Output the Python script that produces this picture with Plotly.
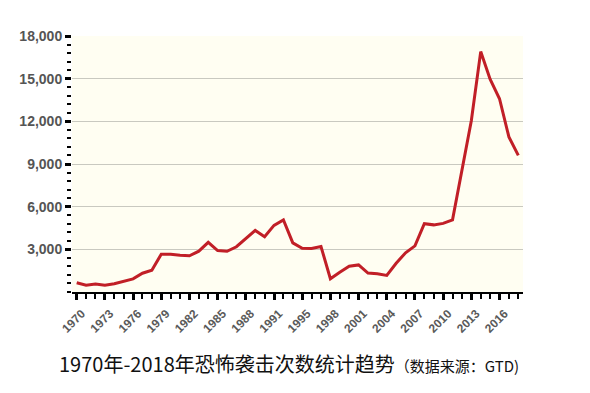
import plotly.graph_objects as go

years = [1970, 1971, 1972, 1973, 1974, 1975, 1976, 1977, 1978, 1979,
         1980, 1981, 1982, 1983, 1984, 1985, 1986, 1987, 1988, 1989,
         1990, 1991, 1992, 1994, 1995, 1996, 1997, 1998, 1999, 2000,
         2001, 2002, 2003, 2004, 2005, 2006, 2007, 2008, 2009, 2010,
         2011, 2012, 2013, 2014, 2015, 2016, 2017, 2018]
attacks = [651, 471, 568, 473, 581, 740, 923, 1319, 1526, 2662,
           2662, 2586, 2544, 2870, 3495, 2915, 2860, 3183, 3721, 4324,
           3887, 4683, 5071, 3456, 3081, 3058, 3197, 934, 1395, 1814,
           1906, 1333, 1278, 1166, 2017, 2758, 3242, 4805, 4721, 4826,
           5076, 8522, 12036, 16903, 14965, 13587, 10900, 9607]
y_ticks = [3000, 6000, 9000, 12000, 15000, 18000]

idx = list(range(len(years)))
label_idx = idx[::3][:16]
label_txt = [str(years[i]) for i in label_idx]

fig = go.Figure()
fig.add_trace(go.Scatter(
    x=idx, y=attacks, mode="lines",
    line=dict(color="#c11f27", width=3),
    hoverinfo="skip", showlegend=False,
))

tickfont = dict(family="Liberation Sans, Arial, sans-serif", size=14,
                color="#555555", weight="bold")

# page body has an 8px margin, so the figure is drawn 8px right/down
OFF = 8
W, H = 590 - OFF, 393 - OFF
L, T = 72 - OFF, 36 - OFF
R = W - (523 - OFF)
B = H - (292 - OFF)

fig.update_layout(
    width=W, height=H,
    margin=dict(l=L, r=R, t=T, b=B, autoexpand=False),
    paper_bgcolor="white",
    plot_bgcolor="#fffef2",
    xaxis=dict(
        range=[-0.5, len(years) - 0.5], automargin=False,
        tickmode="array", tickvals=label_idx, ticktext=label_txt,
        tickangle=-45, tickfont=dict(tickfont, size=12, color="#5a5a5a"),
        ticklabelshift=5, ticklabelstandoff=2,
        ticks="outside", ticklen=6, tickwidth=2.5, tickcolor="black",
        showline=True, linecolor="black", linewidth=2,
        showgrid=False, zeroline=False,
        minor=dict(dtick=1, tick0=0, ticks="outside", ticklen=5,
                   tickwidth=1.5, tickcolor="black", showgrid=False),
    ),
    yaxis=dict(
        range=[0, 18000], automargin=False,
        tickmode="array", tickvals=y_ticks, tickformat=",",
        tickfont=tickfont,
        ticks="outside", ticklen=6, tickwidth=2.5, tickcolor="black",
        showline=False, showgrid=True, gridcolor="#c9c9c0", gridwidth=1,
        zeroline=False,
        minor=dict(dtick=600, tick0=0, ticks="outside", ticklen=4,
                   tickwidth=1.5, tickcolor="black", showgrid=False),
    ),
    annotations=[dict(
        x=(288.5 - OFF - L) / (W - L - R), xref="paper", xanchor="center",
        y=(H - B - (363 - OFF)) / (H - T - B), yref="paper", yanchor="middle",
        text="1970年-2018年恐怖袭击次数统计趋势<span style='font-size:15px'>（数据来源：GTD)</span>",
        showarrow=False,
        font=dict(family="Noto Sans CJK SC, sans-serif", size=20, color="#111111"),
    )],
)

fig.write_html("out.html")
